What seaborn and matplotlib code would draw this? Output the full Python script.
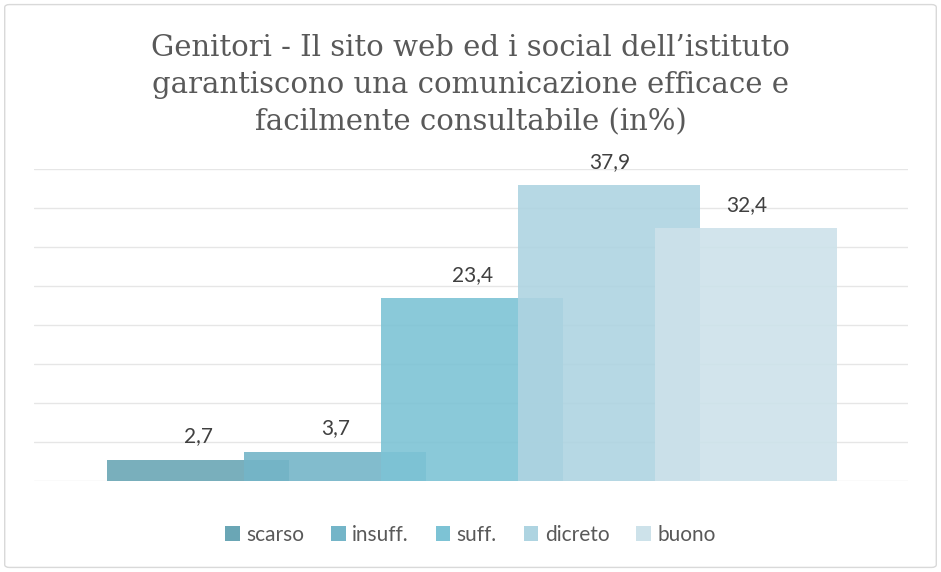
import pandas as pd
import matplotlib
matplotlib.use("Agg")
import matplotlib.pyplot as plt
import seaborn as sns
from matplotlib.patches import Patch, FancyBboxPatch

categorie = ["scarso", "insuff.", "suff.", "dicreto", "buono"]
valori = [2.7, 3.7, 23.4, 37.9, 32.4]
colori = ["#6AA6B5", "#74B5C8", "#7DC3D5", "#AED4E1", "#CDE2EA"]
titolo = ("Genitori - Il sito web ed i social dell\u2019istituto\n"
          "garantiscono una comunicazione efficace e\n"
          "facilmente consultabile (in%)")

df = pd.DataFrame({"cat": categorie, "val": valori})

sns.set_style("white")
plt.rcParams["font.family"] = ["Lato", "DejaVu Sans"]

fig = plt.figure(figsize=(9.41, 5.72), dpi=100)
ax = fig.add_axes([34 / 941, 1 - 481 / 572, (908 - 34) / 941, (481 - 169) / 572])

# barre larghe e sovrapposte, come nel grafico excel
sns.barplot(data=df, x="cat", y="val", hue="cat", palette=colori, width=1.33,
            legend=False, ax=ax, zorder=3, saturation=1, alpha=0.9, linewidth=0)

ax.set_ylim(0, 40)
ax.set_xlim(-1.2, 5.18)
ax.set_yticks(range(0, 41, 5))
ax.yaxis.grid(True, color="#E6E6E6", linewidth=1)
ax.set_axisbelow(True)
ax.set_xticks([])
ax.tick_params(left=False, labelleft=False)
ax.set_xlabel("")
ax.set_ylabel("")
for s in ax.spines.values():
    s.set_visible(False)

for i, v in enumerate(valori):
    ax.annotate(f"{v:.1f}".replace(".", ","), (i, v), xytext=(0, 17),
                textcoords="offset points", ha="center", va="center",
                fontsize=15, color="#404040")

fig.text(0.5, 1 - 85 / 572, titolo, ha="center", va="center", fontsize=21,
         family=["DejaVu Serif"], color="#595959", linespacing=1.42)

handles = [Patch(facecolor=c, edgecolor="none") for c in colori]
fig.legend(handles, categorie, loc="center", bbox_to_anchor=(0.5, 1 - 535 / 572),
           ncol=5, frameon=False, fontsize=15, handlelength=0.7, handleheight=0.7,
           handletextpad=0.3, columnspacing=1.3, labelcolor="#595959")

fig.patches.append(FancyBboxPatch((0.005, 0.008), 0.99, 0.984,
                                  boxstyle="round,pad=0,rounding_size=0.005",
                                  transform=fig.transFigure, facecolor="none",
                                  edgecolor="#D9D9D9", linewidth=1))

fig.savefig("out.png", dpi=100)
